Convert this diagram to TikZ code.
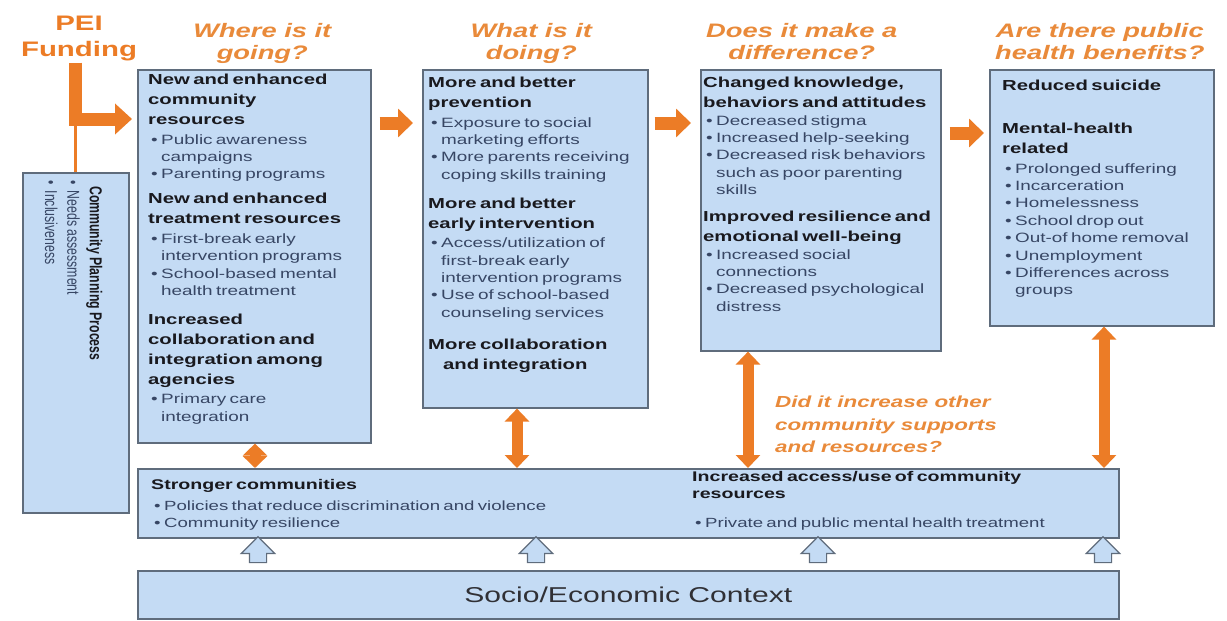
\documentclass[tikz,border=0pt]{standalone}
\usepackage{fontspec}
\setmainfont{Liberation Sans}[FakeStretch=1.4]
\newfontfamily\plainsans{Liberation Sans}
\usetikzlibrary{
  arrows.meta,
  calc,
  positioning,
  shapes.arrows
}
\definecolor{panelfill}{RGB}{196,219,244}
\definecolor{panelline}{RGB}{95,108,124}
\definecolor{peiorange}{RGB}{236,124,38}
\definecolor{asktext}{RGB}{233,138,58}
\definecolor{headink}{RGB}{25,25,30}
\definecolor{itemink}{RGB}{55,70,100}
\setlength{\parindent}{0pt}
\newcommand{\boxhead}[1]{{\fontsize{14.5}{20}\selectfont\bfseries\color{headink}#1\par}\vspace{2pt}}
\newcommand{\boxitem}[1]{{\fontsize{13.5}{17.4}\selectfont\color{itemink}\hangindent=13pt\hangafter=1\noindent\hbox to 13pt{\hspace{3pt}\textbullet\hfil}#1\par}}
\newcommand{\bandhead}[1]{{\fontsize{14}{17}\selectfont\bfseries\color{headink}#1\par}}
\newcommand{\banditem}[1]{{\fontsize{13.3}{17}\selectfont\color{itemink}\noindent\hbox to 13pt{\hspace{3pt}\textbullet\hfil}#1\par}}

\begin{document}
\begin{tikzpicture}[x=1pt, y=-1pt,
  panel/.style={draw=panelline, line width=1.6pt, fill=panelfill, inner sep=0pt, anchor=north west},
  paneltext/.style={anchor=north west, inner sep=0pt, align=left},
  ask/.style={text=asktext, font=\fontsize{19.5}{22.5}\selectfont\bfseries\itshape, align=center,
              inner sep=0pt, text depth=5pt},
  flowarr/.style={draw=peiorange, line width=13pt, -{Triangle[length=15pt,width=28pt]}},
  linkarr/.style={draw=peiorange, line width=11pt, {Triangle[length=13pt,width=24pt]}-{Triangle[length=13pt,width=24pt]}},
  uparr/.style={single arrow, shape border rotate=90, draw=panelline, line width=1.2pt, fill=panelfill,
                inner sep=8pt, minimum height=25pt, single arrow head extend=8pt},
  node distance=6pt
]
\useasboundingbox[fill=white] (0,0) rectangle (1227,621);

\node[panel, minimum width=233pt, minimum height=373pt] (b1) at (137,69) {};
\node[panel, minimum width=225pt, minimum height=338pt] (b2) at (422,69) {};
\node[panel, minimum width=240pt, minimum height=281pt] (b3) at (700,69) {};
\node[panel, minimum width=224pt, minimum height=256pt] (b4) at (989,69) {};
\node[panel, minimum width=106pt, minimum height=340pt] (cpp) at (22,172) {};
\node[panel, minimum width=981pt, minimum height=69pt] (band) at (137,468) {};
\node[panel, minimum width=981pt, minimum height=48pt, text=headink!90,
      font=\fontsize{21.5}{24}\selectfont] (socio) at (137,570) {Socio/Economic Context};

% Questions
\node[ask, above=4pt of b1.north, xshift=8pt] (q1) {Where is it\\going?};
\node[ask, above=4pt of b2.north, xshift=-4pt] (q2) {What is it\\doing?};
\node[ask, above=4pt of b3.north, xshift=-19pt] (q3) {Does it make a\\difference?};
\node[ask, above=4pt of b4.north, xshift=-2pt] (q4) {Are there public\\health benefits?};
\node[ask, align=left, anchor=north west, text depth=0pt, font=\fontsize{16}{22.5}\selectfont\bfseries\itshape] (q5)
  at (775,396) {Did it increase other\\community supports\\and resources?};

\node[paneltext, text width=222pt] (t1) at ($(b1.north west)+(11,5)$) {%
  \boxhead{New and enhanced\newline community\newline resources}
  \boxitem{Public awareness\newline campaigns}
  \boxitem{Parenting programs}
  \vspace{5pt}
  \boxhead{New and enhanced\newline treatment resources}
  \boxitem{First-break early\newline intervention programs}
  \boxitem{School-based mental\newline health treatment}
  \vspace{9pt}
  \boxhead{Increased\newline collaboration and\newline integration among\newline agencies}
  \boxitem{Primary care\newline integration}};
\node[paneltext, text width=219pt] (t2) at ($(b2.north west)+(6,8)$) {%
  \boxhead{More and better\newline prevention}
  \boxitem{Exposure to social\newline marketing efforts}
  \boxitem{More parents receiving\newline coping skills training}
  \vspace{9pt}
  \boxhead{More and better\newline early intervention}
  \boxitem{Access/utilization of\newline first-break early\newline intervention programs}
  \boxitem{Use of school-based\newline counseling services}
  \vspace{12pt}
  \boxhead{More collaboration\newline\hspace*{15pt}and integration}};
\node[paneltext, text width=237pt] (t3) at ($(b3.north west)+(3,8)$) {%
  \boxhead{Changed knowledge,\newline behaviors and attitudes}
  \vspace{-2pt}
  \boxitem{Decreased stigma}
  \boxitem{Increased help-seeking}
  \boxitem{Decreased risk behaviors\newline such as poor parenting\newline skills}
  \vspace{7pt}
  \boxhead{Improved resilience and\newline emotional well-being}
  \vspace{-2pt}
  \boxitem{Increased social\newline connections}
  \boxitem{Decreased psychological\newline distress}};
\node[paneltext, text width=210pt] (t4) at ($(b4.north west)+(13,11)$) {%
  \boxhead{Reduced suicide}
  \vspace{21pt}
  \boxhead{Mental-health\newline related}
  \boxitem{Prolonged suffering}
  \boxitem{Incarceration}
  \boxitem{Homelessness}
  \boxitem{School drop out}
  \boxitem{Out-of home removal}
  \boxitem{Unemployment}
  \boxitem{Differences across\newline groups}};
\node[paneltext, text width=530pt] (tl) at ($(band.north west)+(14,11)$) {%
  \bandhead{Stronger communities}
  \vspace{4pt}
  \banditem{Policies that reduce discrimination and violence}
  \banditem{Community resilience}};
\node[paneltext, text width=420pt] (tr) at ($(band.north west)+(555,3)$) {%
  \bandhead{Increased access/use of community\newline resources}
  \vspace{12pt}
  \banditem{Private and public mental health treatment}};
\node[anchor=north west, inner sep=0pt, align=left, rotate=-90, yscale=1.4,
      font=\plainsans\fontsize{12.3}{16}\selectfont] (tp) at ($(cpp.north east)+(-27,8)$) {%
  \hspace*{6pt}{\bfseries\color{headink}Community Planning Process}\\
  {\color{itemink}\textbullet\enspace Needs assessment}\\
  {\color{itemink}\textbullet\enspace Inclusiveness}};

% Funding
\node[text=peiorange, font=\fontsize{21}{26}\selectfont\bfseries, align=center, inner sep=1pt] (pei) at (79,39) {PEI\\Funding};
\coordinate (fundtip) at ($(b1.north west)+(-5,50)$);
\draw[peiorange, line width=3pt] (cpp.north) -- (cpp.north |- fundtip);
\draw[flowarr, -{Triangle[length=17pt,width=30pt]}] (pei.south -| cpp.north) |- (fundtip);

\draw[flowarr] ($(b1.north east)+(8,54)$) -- ($(b2.north west)+(-9,54)$);
\draw[flowarr] ($(b2.north east)+(6,54)$) -- ($(b3.north west)+(-9,54)$);
\draw[flowarr] ($(b3.north east)+(8,64)$) -- ($(b4.north west)+(-5,64)$);

\draw[linkarr, {Triangle[length=12pt,width=24pt]}-{Triangle[length=12pt,width=24pt]}]
  ($(b1.south west)+(118,0)$) coordinate (l1) -- (l1 |- band.north);
\draw[linkarr] ($(b2.south west)+(95,0)$) coordinate (l2) -- (l2 |- band.north);
\draw[linkarr] ($(b3.south west)+(48,0)$) coordinate (l3) -- (l3 |- band.north);
\draw[linkarr] ($(b4.south west)+(115,0)$) coordinate (l4) -- (l4 |- band.north);

\foreach \px/\nm in {121/u1, 399/u2, 681/u3, 966/u4}
  \node[uparr] (\nm) at ($(socio.north west)+(\px,-16)$) {};

\end{tikzpicture}
\end{document}
